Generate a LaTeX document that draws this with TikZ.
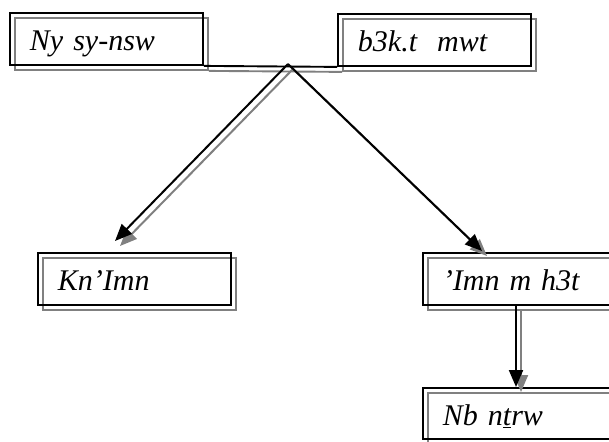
\documentclass[tikz,border=0pt]{standalone}
\usepackage{fontspec}
\setmainfont{Liberation Serif}
\usetikzlibrary{arrows.meta,shadows}
\newcommand{\shadecol}{gray}
\newcommand{\boxcol}{black}

\begin{document}
\begin{tikzpicture}[x=1pt,y=-1pt,
        namebox/.style={draw=\boxcol, line width=1.9pt, anchor=north west,
            text width=153pt, inner xsep=20pt, inner ysep=0pt, minimum height=52pt,
            text height=24pt, text depth=0pt,
            align=left, font=\fontsize{30}{34}\selectfont\itshape,
            copy shadow={shadow xshift=5pt, shadow yshift=-5pt, draw=\shadecol, fill=none, line width=1.9pt}},
        link/.style={line width=2pt, -{Triangle[length=17pt,width=14pt]}}]
        \useasboundingbox (0,0) rectangle (609,441);
        %\draw[help lines] (0,0) grid (609,441);
        \node[namebox] (nysy) at (9,12) {Ny sy-nsw};
        \node[namebox] (bak) at (337,13) {b3k.t~ mwt};
        \node[namebox] (knimn) at (37,252) {Kn’Imn};
        \node[namebox] (imn) at (422,252) {’Imn m h3t};
        \node[namebox, minimum height=51pt] (nb) at (422,387) {Nb n\underline{t}rw};
        \coordinate (apex) at (288,64);
        \coordinate (tipL) at (115,241);
        \coordinate (tipR) at (482,251);
        \coordinate (down) at (516,304);
        % shadow first, then the black lines
        \foreach \dx/\col in {5/\shadecol, 0/\boxcol} {
            \begin{scope}[transform canvas={shift={(\dx pt,-\dx pt)}}]
                \draw[line width=1.9pt, draw=\col] (nysy.south east) -- (bak.south west);
                \draw[link, draw=\col] (apex) -- (tipL);
                \draw[link, draw=\col] (apex) -- (tipR);
                \draw[link, draw=\col] (down) -- (down |- nb.north);
            \end{scope}
        }
    \end{tikzpicture}
\end{document}
